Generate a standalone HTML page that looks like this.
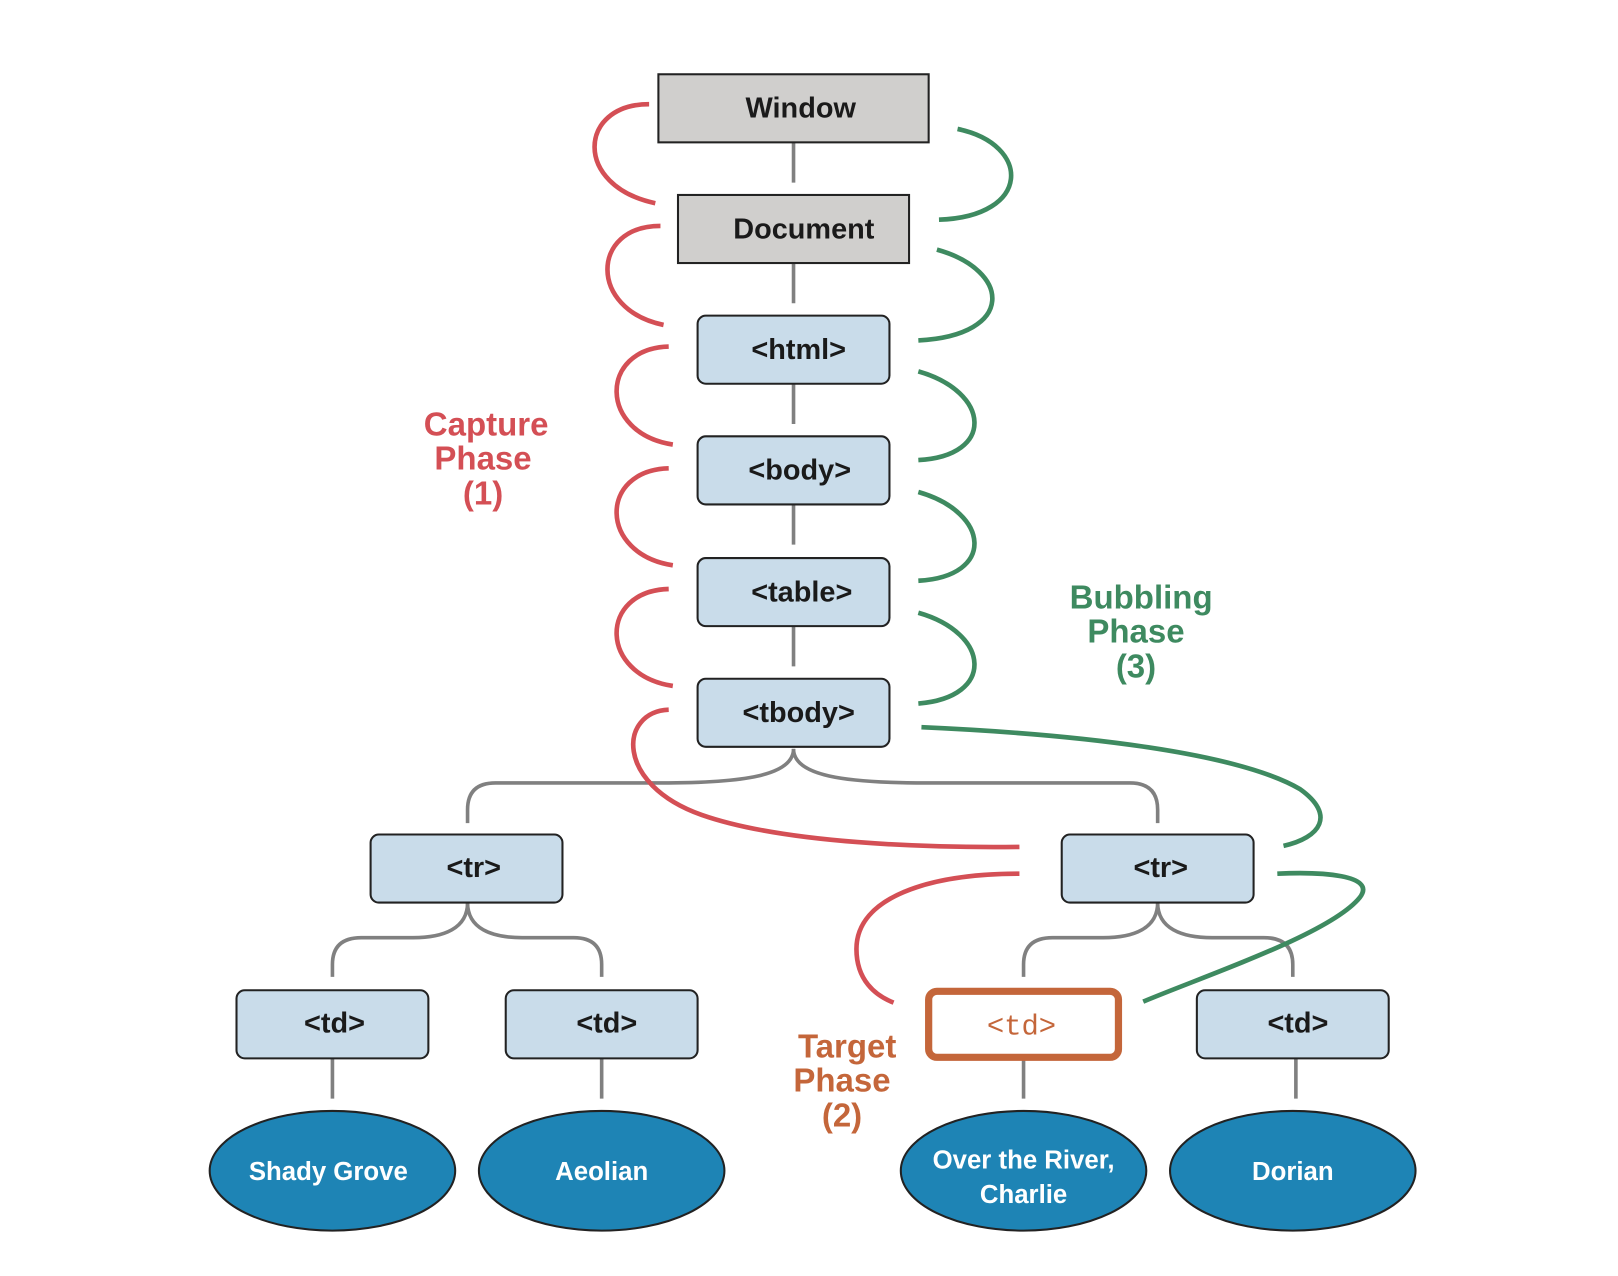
<!DOCTYPE html>
<html><head><meta charset="utf-8"><style>html,body{margin:0;padding:0;background:#fff}svg{display:block}</style></head>
<body>
<svg width="1618" height="1276" viewBox="0 0 1568 1237" xmlns="http://www.w3.org/2000/svg" font-family="Liberation Sans, DejaVu Sans, sans-serif">
<rect width="1568" height="1237" fill="#fff"/>
<g stroke="#808080" stroke-width="3.5" fill="none">
<path d="M769 138V177M769 255V294M769 372V411M769 489V528M769 607V646"/>
<path d="M769 726C769 752 720 759 640 759L480 759Q453 759 453 785V798"/>
<path d="M769 726C769 752 818 759 898 759L1095 759Q1122 759 1122 785V798"/>
<path d="M453 875C453 900 430 909 400 909L350 909Q322 909 322 935V947"/>
<path d="M453 875C453 900 476 909 506 909L556 909Q583 909 583 935V947"/>
<path d="M1122 875C1122 900 1099 909 1069 909L1020 909Q992 909 992 935V947"/>
<path d="M1122 875C1122 900 1145 909 1175 909L1225 909Q1253 909 1253 935V947"/>
<path d="M322 1026V1065M583 1026V1065M992 1026V1065M1256 1026V1065"/>
</g>
<g stroke="#d44f55" stroke-width="4.5" fill="none">
<path d="M629 101C560 101 555 180 635 197"/>
<path d="M640 219C572 219 570 300 643 315"/>
<path d="M648 336C580 338 580 420 652 431"/>
<path d="M648 454C580 456 580 537 652 548"/>
<path d="M648 571C580 573 580 654 652 665"/>
<path d="M648 688C600 690 595 760 680 790C760 818 900 822 988 821"/>
<path d="M988 847C900 847 830 870 830 920C830 950 848 965 866 972"/>
</g>
<g stroke="#3e8a60" stroke-width="4.5" fill="none">
<path d="M928 125C1000 140 1000 210 910 213"/>
<path d="M908 242C980 262 985 325 890 330"/>
<path d="M890 360C960 380 965 442 890 446"/>
<path d="M890 477C960 497 965 559 890 563"/>
<path d="M890 594C960 614 965 676 890 682"/>
<path d="M893 705C1050 712 1200 730 1260 765C1295 790 1280 812 1244 820"/>
<path d="M1238 847C1280 845 1335 848 1318 870C1290 905 1170 945 1108 971"/>
</g>
<g stroke="#222" stroke-width="2">
<rect x="638" y="72" width="262" height="66" fill="#d0cfcd"/>
<rect x="657" y="189" width="224" height="66" fill="#d0cfcd"/>
<g fill="#c9dcea">
<rect x="676" y="306" width="186" height="66" rx="8"/>
<rect x="676" y="423" width="186" height="66" rx="8"/>
<rect x="676" y="541" width="186" height="66" rx="8"/>
<rect x="676" y="658" width="186" height="66" rx="8"/>
<rect x="359" y="809" width="186" height="66" rx="8"/>
<rect x="1029" y="809" width="186" height="66" rx="8"/>
<rect x="229" y="960" width="186" height="66" rx="8"/>
<rect x="490" y="960" width="186" height="66" rx="8"/>
<rect x="1160" y="960" width="186" height="66" rx="8"/>
</g>
<g fill="#1e84b5">
<ellipse cx="322" cy="1135" rx="119" ry="58"/>
<ellipse cx="583" cy="1135" rx="119" ry="58"/>
<ellipse cx="992" cy="1135" rx="119" ry="58"/>
<ellipse cx="1253" cy="1135" rx="119" ry="58"/>
</g>
</g>
<rect x="900" y="961" width="184" height="64" rx="8" fill="#fff" stroke="#c4663a" stroke-width="7"/>
<g font-weight="bold" font-size="28" fill="#1a1a1a" text-anchor="middle">
<text x="776" y="114">Window</text>
<text x="779" y="231">Document</text>
<text x="774" y="348">&lt;html&gt;</text>
<text x="775" y="465">&lt;body&gt;</text>
<text x="777" y="583">&lt;table&gt;</text>
<text x="774" y="700">&lt;tbody&gt;</text>
<text x="459" y="850">&lt;tr&gt;</text>
<text x="1125" y="850">&lt;tr&gt;</text>
<text x="324" y="1001">&lt;td&gt;</text>
<text x="588" y="1001">&lt;td&gt;</text>
<text x="1258" y="1001">&lt;td&gt;</text>
</g>
<text x="990" y="1003" text-anchor="middle" font-family="Liberation Mono, monospace" font-size="28" fill="#c4663a">&lt;td&gt;</text>
<g font-weight="bold" font-size="25" fill="#fff" text-anchor="middle">
<text x="318" y="1144">Shady Grove</text>
<text x="583" y="1144">Aeolian</text>
<text x="992" y="1133">Over the River,</text>
<text x="992" y="1166">Charlie</text>
<text x="1253" y="1144">Dorian</text>
</g>
<g font-weight="bold" font-size="32" text-anchor="middle">
<g fill="#d44f55"><text x="471" y="422">Capture</text><text x="468" y="455">Phase</text><text x="468" y="489">(1)</text></g>
<g fill="#3e8a60"><text x="1106" y="590">Bubbling</text><text x="1101" y="623">Phase</text><text x="1101" y="657">(3)</text></g>
<g fill="#c4663a"><text x="821" y="1025">Target</text><text x="816" y="1058">Phase</text><text x="816" y="1092">(2)</text></g>
</g>
</svg>
</body></html>
